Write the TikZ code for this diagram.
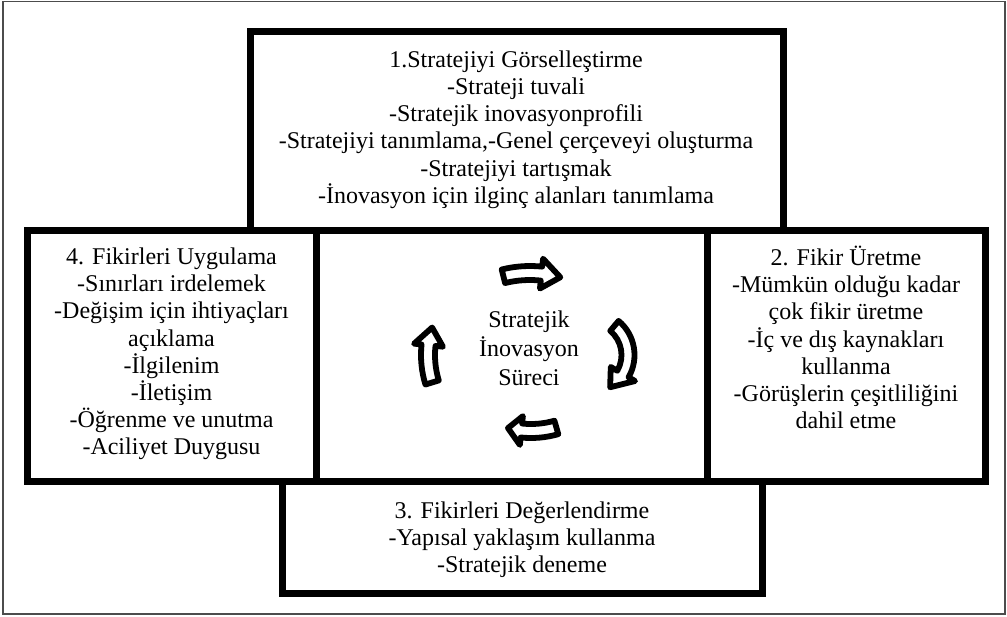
\documentclass[tikz,border=0pt]{standalone}
\usepackage{fontspec}
\setmainfont{Liberation Serif}
\tikzset{
  panel/.style={draw, line width=7pt, inner sep=0pt},
  txt/.style={align=center, inner sep=0pt, font=\fontsize{24}{27.2}\selectfont},
  cyclearrow/.style={draw, fill=white, line width=5.8pt, line join=round},
}
% curved block arrow along a circle:
% #1,#2 centre, #3 radius, #4 tail angle, #5 head base angle, #6 tip angle,
% #7 half body width, #8 half head width
\newcommand\cyclearc[8]{%
  \begin{scope}[shift={(#1,#2)}]
    \draw[cyclearrow] (#4:{#3+#7}) arc[start angle=#4, end angle=#5, radius={#3+#7}]
      -- (#5:{#3+#8}) -- (#6:#3) -- (#5:{#3-#8}) -- (#5:{#3-#7})
      arc[start angle=#5, end angle=#4, radius={#3-#7}] -- cycle;
  \end{scope}}
\begin{document}
\begin{tikzpicture}[x=1pt, y=-1pt]
  \useasboundingbox (0,0) rectangle (1007,616);
  \fill[white] (0,0) rectangle (1007,616);
  \draw[black!70, line width=1.5pt] (3,1.5) rectangle (1005,614);

  % the five panels
  \node[panel, minimum width=533pt, minimum height=199pt] (topbox) at (516.5,130.5) {};
  \node[panel, minimum width=289pt, minimum height=251pt] (leftbox) at (171.5,355.5) {};
  \node[panel, minimum width=391pt, minimum height=251pt] (midbox) at (511.5,355.5) {};
  \node[panel, minimum width=278pt, minimum height=251pt] (rightbox) at (846,355.5) {};
  \node[panel, minimum width=480pt, minimum height=112pt] (bottombox) at (522,537) {};

  % panel texts
  \node[txt] (toptext) at (516,129.5) {1.Stratejiyi Görselleştirme\\-Strateji tuvali\\-Stratejik inovasyonprofili\\-Stratejiyi tanımlama,-Genel çerçeveyi oluşturma\\-Stratejiyi tartışmak\\-İnovasyon için ilginç alanları tanımlama};
  \node[txt] (lefttext) at (171.5,354) {4. Fikirleri Uygulama\\-Sınırları irdelemek\\-Değişim için ihtiyaçları\\açıklama\\-İlgilenim\\-İletişim\\-Öğrenme ve unutma\\-Aciliyet Duygusu};
  \node[txt] (righttext) at (846,337.5) {2. Fikir Üretme\\-Mümkün olduğu kadar\\çok fikir üretme\\-İç ve dış kaynakları\\kullanma\\-Görüşlerin çeşitliliğini\\dahil etme};
  \node[txt] (bottomtext) at (522,540) {3. Fikirleri Değerlendirme\\-Yapısal yaklaşım kullanma\\-Stratejik deneme};
  \node[txt, font=\fontsize{24}{29}\selectfont] (core) at (529,348) {Stratejik\\İnovasyon\\Süreci};

  % clockwise cycle arrows around the core
  \cyclearc{530}{383}{110}{-104}{-84}{-74}{7}{15}
  \cyclearc{590}{355}{38}{-50}{30}{58}{6.5}{14}
  \cyclearc{531}{339}{92}{74}{96}{104.5}{7}{14.5}
  \cyclearc{522}{355}{94}{163}{186}{197}{7}{14.5}
\end{tikzpicture}
\end{document}
